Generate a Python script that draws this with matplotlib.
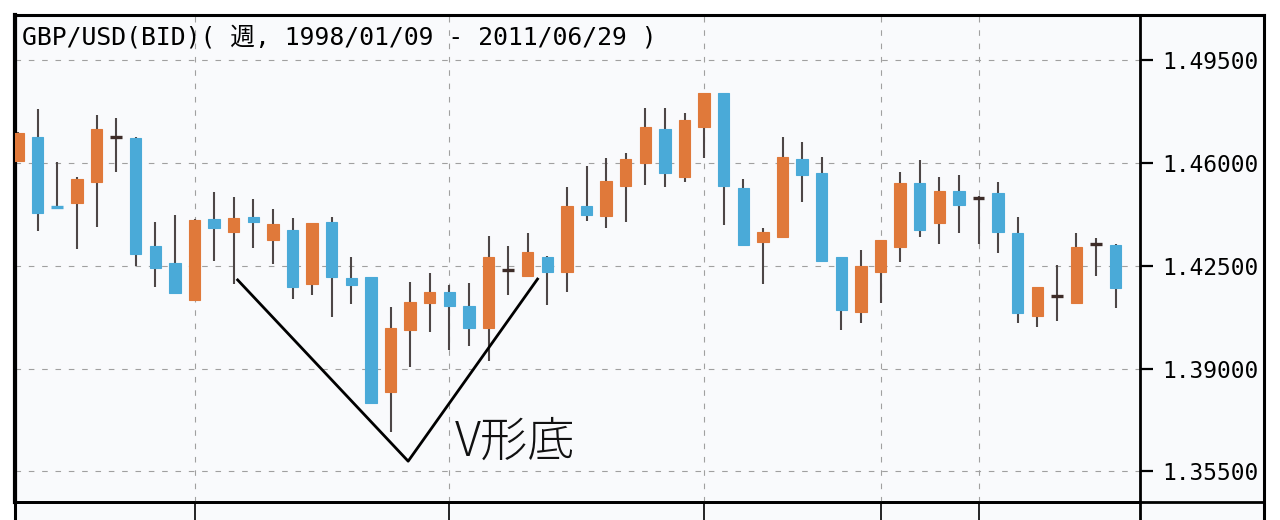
import numpy as np
import matplotlib.pyplot as plt

# Wochenkerzen GBP/USD, Werte
opens = [1.4607, 1.4690, 1.4449, 1.4463, 1.4536, 1.4690, 1.4684, 1.4318, 1.4261, 1.4134,
         1.4409, 1.4365, 1.4417, 1.4338, 1.4372, 1.4188, 1.4400, 1.4208, 1.4213, 1.3821,
         1.4031, 1.4124, 1.4161, 1.4113, 1.4037, 1.4236, 1.4215, 1.4281, 1.4230, 1.4454,
         1.4421, 1.4522, 1.4599, 1.4715, 1.4553, 1.4724, 1.4837, 1.4514, 1.4332, 1.4349,
         1.4613, 1.4565, 1.4281, 1.4094, 1.4230, 1.4315, 1.4531, 1.4397, 1.4505, 1.4482,
         1.4497, 1.4361, 1.4079, 1.4147, 1.4124, 1.4323, 1.4321]
highs = [1.4705, 1.4784, 1.4604, 1.4552, 1.4763, 1.4752, 1.4689, 1.4400, 1.4423, 1.4410,
         1.4502, 1.4485, 1.4477, 1.4443, 1.4413, 1.4397, 1.4417, 1.4281, 1.4213, 1.4111,
         1.4196, 1.4227, 1.4185, 1.4190, 1.4351, 1.4317, 1.4363, 1.4282, 1.4519, 1.4590,
         1.4616, 1.4635, 1.4786, 1.4786, 1.4769, 1.4837, 1.4837, 1.4545, 1.4378, 1.4688,
         1.4673, 1.4619, 1.4281, 1.4304, 1.4338, 1.4570, 1.4610, 1.4553, 1.4559, 1.4488,
         1.4536, 1.4417, 1.4179, 1.4253, 1.4363, 1.4344, 1.4325]
lows = [1.4605, 1.4368, 1.4446, 1.4307, 1.4383, 1.4568, 1.4249, 1.4179, 1.4156, 1.4134,
        1.4266, 1.4188, 1.4312, 1.4256, 1.4137, 1.4151, 1.4077, 1.4120, 1.3782, 1.3685,
        1.3906, 1.4026, 1.3963, 1.3978, 1.3926, 1.4151, 1.4212, 1.4117, 1.4162, 1.4403,
        1.4378, 1.4400, 1.4525, 1.4517, 1.4536, 1.4616, 1.4389, 1.4321, 1.4188, 1.4349,
        1.4468, 1.4266, 1.4031, 1.4056, 1.4124, 1.4264, 1.4349, 1.4324, 1.4361, 1.4324,
        1.4293, 1.4056, 1.4043, 1.4063, 1.4124, 1.4215, 1.4105]
closes = [1.4703, 1.4431, 1.4447, 1.4546, 1.4715, 1.4691, 1.4289, 1.4241, 1.4156, 1.4406,
          1.4379, 1.4413, 1.4400, 1.4392, 1.4179, 1.4396, 1.4213, 1.4185, 1.3782, 1.4038,
          1.4128, 1.4162, 1.4113, 1.4039, 1.4279, 1.4237, 1.4298, 1.4230, 1.4455, 1.4423,
          1.4540, 1.4614, 1.4721, 1.4565, 1.4746, 1.4837, 1.4522, 1.4321, 1.4366, 1.4619,
          1.4559, 1.4266, 1.4100, 1.4249, 1.4338, 1.4531, 1.4372, 1.4505, 1.4457, 1.4483,
          1.4366, 1.4088, 1.4179, 1.4148, 1.4315, 1.4324, 1.4173]

y_ticks = [1.355, 1.390, 1.425, 1.460, 1.495]
x_grid = [9, 22, 35, 44, 49]  # Monatswechsel (gestrichelte Linien)

# V-Formation (Index, Kurs)
v_x = [11.2, 19.9, 26.5]
v_y = [1.4202, 1.3585, 1.4205]

title = "GBP/USD(BID)( 週, 1998/01/09 - 2011/06/29 )"
mono = ['DejaVu Sans Mono', 'Noto Sans CJK JP']

W, H = 1280, 520
bg = '#f9fafc'
blue = '#4aaad8'
orange = '#e0793a'
dark = '#3d2c28'

fig = plt.figure(figsize=(W / 100, H / 100), dpi=100, facecolor='white')

# aeusserer Rahmen
frame = fig.add_axes([15 / W, -0.2, (1264 - 15) / W, 1 - 15 / H + 0.2], facecolor=bg, zorder=0)
frame.set_xticks([])
frame.set_yticks([])
frame.spines['bottom'].set_visible(False)
for s in ['left', 'top', 'right']:
    frame.spines[s].set_linewidth(2.2)

# Datumsleiste unten (abgeschnitten)
ax_date = fig.add_axes([15 / W, -0.2, 1125 / W, 0.2 + 1 - 502 / H], facecolor='none', zorder=1)
ax_date.set_xticks([])
ax_date.set_yticks([])
for s in ['left', 'bottom']:
    ax_date.spines[s].set_visible(False)
for s in ['top', 'right']:
    ax_date.spines[s].set_linewidth(2)

# rechte Skala unten abschliessen
ax_side = fig.add_axes([1140 / W, 1 - 502 / H, 124 / W, 487 / H], facecolor='none', zorder=1)
ax_side.set_xticks([])
ax_side.set_yticks([])
for s in ['left', 'top', 'right']:
    ax_side.spines[s].set_visible(False)
ax_side.spines['bottom'].set_linewidth(2)

ax = fig.add_axes([15 / W, 1 - 502 / H, 1125 / W, 487 / H], facecolor='none', zorder=2)

x = np.arange(len(opens))
o = np.array(opens)
c = np.array(closes)
up = c >= o
doji = np.abs(c - o) < 0.0003

ax.vlines(x, lows, highs, color='#4d4646', lw=1.5, zorder=2)
body = ~doji
cols = np.where(up, orange, blue)
ax.bar(x[body], np.abs(c - o)[body], bottom=np.minimum(o, c)[body], width=0.58,
       color=cols[body], edgecolor=cols[body], linewidth=0.8, zorder=3)
doji_cols = np.where(up, dark, blue)
ax.hlines(o[doji], x[doji] - 0.3, x[doji] + 0.3, color=doji_cols[doji], lw=2.4, zorder=3)

# V-Linie und Beschriftung
ax.plot(v_x, v_y, color='black', lw=2, zorder=4)
ax.text(22.3, 1.3650, 'V形底', fontsize=34, family=['Noto Sans CJK JP', 'DejaVu Sans'],
        fontweight='light', color='#111111', va='center', ha='left', zorder=4)

ax.text(0.006, 0.953, title, transform=ax.transAxes, fontsize=17.8, family=mono,
        va='center', ha='left', color='black', zorder=5)

ax.set_xlim(-0.16, 57.24)
ax.set_ylim(1.3446, 1.5104)
ax_date.set_xlim(ax.get_xlim())
for g in x_grid:
    ax.axvline(g, color='#a0a0a0', lw=0.8, ls=(0, (5, 7)), zorder=1)
    ax_date.axvline(g, color='black', lw=1.2)
for t in y_ticks:
    ax.axhline(t, color='#a0a0a0', lw=0.8, ls=(0, (5, 7)), zorder=1)

ax.set_xticks([])
ax.yaxis.tick_right()
ax.set_yticks(y_ticks)
ax.set_yticklabels(['%.5f' % t for t in y_ticks], family=mono, fontsize=16.5)
ax.tick_params(axis='y', direction='out', length=9, width=1.6, pad=7)
for s in ax.spines.values():
    s.set_linewidth(2)
ax.spines['left'].set_linewidth(3)

plt.savefig('out.png', dpi=100, facecolor='white')
